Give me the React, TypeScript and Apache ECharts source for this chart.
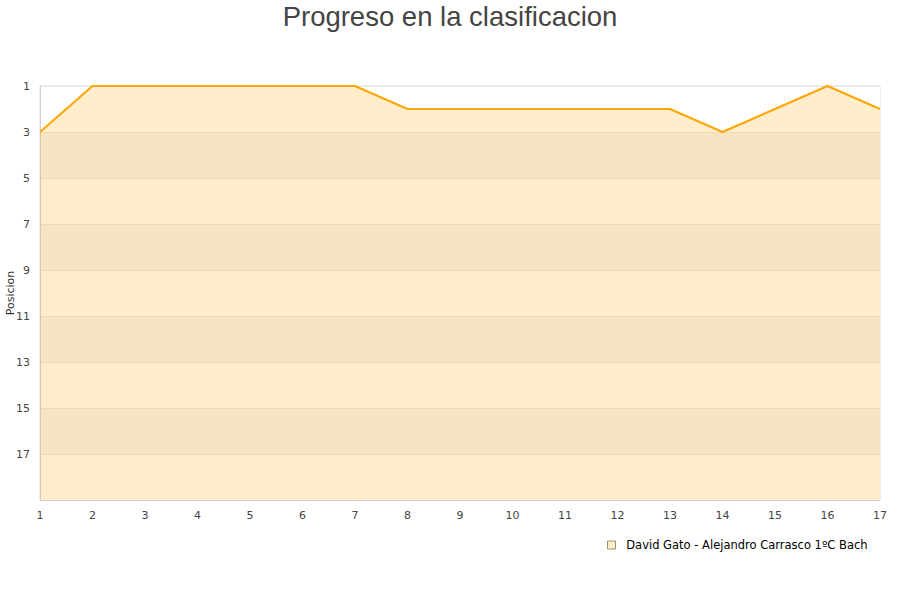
import React, { useEffect, useRef } from "react";
import * as echarts from "echarts";

const jornadas = ["1","2","3","4","5","6","7","8","9","10","11","12","13","14","15","16","17"];
const posiciones = [3, 1, 1, 1, 1, 1, 1, 2, 2, 2, 2, 2, 2, 3, 2, 1, 2];
const serieNombre = "David Gato - Alejandro Carrasco 1ºC Bach";
const titulo = "Progreso en la clasificacion";

export default function App() {
  const ref = useRef<HTMLDivElement>(null);
  useEffect(() => {
    document.body.style.margin = "0";
    const chart = echarts.init(ref.current!, null, { renderer: "svg" });
    chart.setOption({
      animation: false,
      backgroundColor: "#ffffff",
      textStyle: { fontFamily: "DejaVu Sans" },
      title: {
        text: titulo,
        left: "center",
        top: -3,
        textStyle: { fontFamily: "Liberation Sans", fontSize: 27.5, fontWeight: "normal", color: "#444444" },
      },
      legend: {
        left: 602,
        top: 534,
        itemWidth: 8,
        itemHeight: 8,
        itemGap: 6,
        icon: "rect",
        formatter: (n: string) => "\u2002" + n,
        data: [{ name: serieNombre, itemStyle: { color: "#ffedcc", borderColor: "#a09070", borderWidth: 1 } }],
        textStyle: { fontFamily: "DejaVu Sans", fontSize: 11.5, color: "#000000" },
      },
      grid: { left: 40, right: 20, top: 86, bottom: 100, containLabel: false, outerBoundsMode: "none", show: true, borderColor: "#dddddd", borderWidth: 1, backgroundColor: "transparent" },
      xAxis: {
        type: "category",
        data: jornadas,
        boundaryGap: false,
        axisLine: { lineStyle: { color: "#d0d0d0" } },
        axisTick: { show: false },
        axisLabel: { color: "#444444", fontSize: 11, margin: 10 },
        splitLine: { show: false },
      },
      yAxis: {
        type: "value",
        inverse: true,
        min: 1,
        max: 19,
        interval: 2,
        name: "Posicion",
        nameLocation: "middle",
        nameGap: 24,
        nameMoveOverlap: false,
        nameTextStyle: { color: "#333333", fontSize: 11 },
        axisLine: { show: true, lineStyle: { color: "#d0d0d0" } },
        axisTick: { show: false },
        axisLabel: { color: "#444444", fontSize: 11, margin: 10, formatter: (v: number) => (v === 19 ? "" : String(v)) },
        splitLine: { show: true, lineStyle: { color: "#e6e6e6", width: 1 } },
        splitArea: { show: true, areaStyle: { color: ["#ffffff", "#f4f4f4"] } },
      },
      series: [
        {
          name: serieNombre,
          type: "line",
          data: posiciones,
          showSymbol: false,
          lineStyle: { color: "#ffa500", width: 2 },
          itemStyle: { color: "#ffa500" },
          areaStyle: { color: "#ffa500", opacity: 0.2, origin: "end" },
        },
      ],
    });
    return () => chart.dispose();
  }, []);
  return <div ref={ref} style={{ width: 900, height: 600 }} />;
}
